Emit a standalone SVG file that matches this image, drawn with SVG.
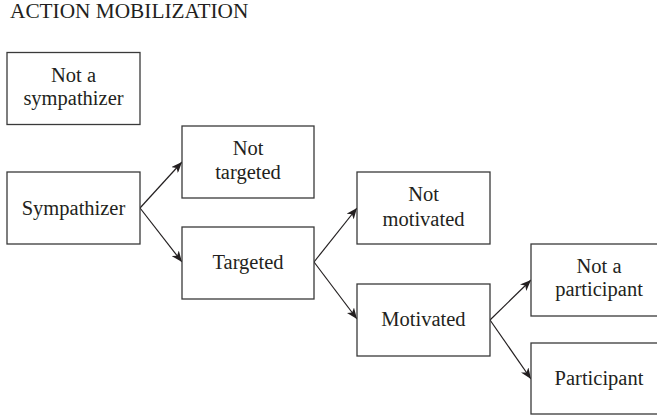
<svg xmlns="http://www.w3.org/2000/svg" width="657" height="415" viewBox="0 0 657 415">
  <style>
    .box { fill: #ffffff; stroke: #3a3a3a; stroke-width: 1.3; }
    .lbl { font-family: "Liberation Serif", "Times New Roman", serif; font-size: 20.5px; fill: #231f20; text-anchor: middle; }
    .title { font-family: "Liberation Serif", "Times New Roman", serif; font-size: 21.3px; fill: #231f20; }
    .edge { fill: none; stroke: #231f20; stroke-width: 1.2; marker-end: url(#arrow); }
  </style>
  <defs>
    <marker id="arrow" markerUnits="userSpaceOnUse" markerWidth="12" markerHeight="9" refX="11" refY="4.5" orient="auto">
      <path d="M0,0 L11,4.5 L0,9 L3,4.5 Z" fill="#231f20"/>
    </marker>
  </defs>
  <rect width="657" height="415" fill="#ffffff"/>

  <text class="title" x="10" y="18">ACTION MOBILIZATION</text>

  <g id="connectors">
    <line class="edge" x1="140" y1="208" x2="182" y2="162"/>
    <line class="edge" x1="140" y1="208" x2="182" y2="262"/>
    <line class="edge" x1="314" y1="262" x2="357" y2="208"/>
    <line class="edge" x1="314" y1="262" x2="357" y2="319"/>
    <line class="edge" x1="490" y1="320" x2="531" y2="280"/>
    <line class="edge" x1="490" y1="320" x2="531" y2="379"/>
  </g>

  <g id="not-sympathizer">
    <rect class="box" x="7" y="52.5" width="133" height="72"/>
    <text class="lbl" x="73.5" y="82">Not a</text>
    <text class="lbl" x="73.5" y="105">sympathizer</text>
  </g>

  <g id="sympathizer">
    <rect class="box" x="7" y="172" width="133" height="72"/>
    <text class="lbl" x="73.5" y="214.5">Sympathizer</text>
  </g>

  <g id="not-targeted">
    <rect class="box" x="182" y="126" width="132" height="72"/>
    <text class="lbl" x="248" y="155">Not</text>
    <text class="lbl" x="248" y="179">targeted</text>
  </g>

  <g id="targeted">
    <rect class="box" x="182" y="227" width="132" height="72"/>
    <text class="lbl" x="248" y="269">Targeted</text>
  </g>

  <g id="not-motivated">
    <rect class="box" x="357" y="172" width="133" height="72"/>
    <text class="lbl" x="423.5" y="201">Not</text>
    <text class="lbl" x="423.5" y="226">motivated</text>
  </g>

  <g id="motivated">
    <rect class="box" x="357" y="284" width="133" height="72"/>
    <text class="lbl" x="423.5" y="326">Motivated</text>
  </g>

  <g id="not-participant">
    <rect class="box" x="531" y="244" width="134" height="72"/>
    <text class="lbl" x="599" y="273">Not a</text>
    <text class="lbl" x="599" y="296">participant</text>
  </g>

  <g id="participant">
    <rect class="box" x="531" y="343" width="134" height="71"/>
    <text class="lbl" x="599" y="384.5">Participant</text>
  </g>
</svg>
